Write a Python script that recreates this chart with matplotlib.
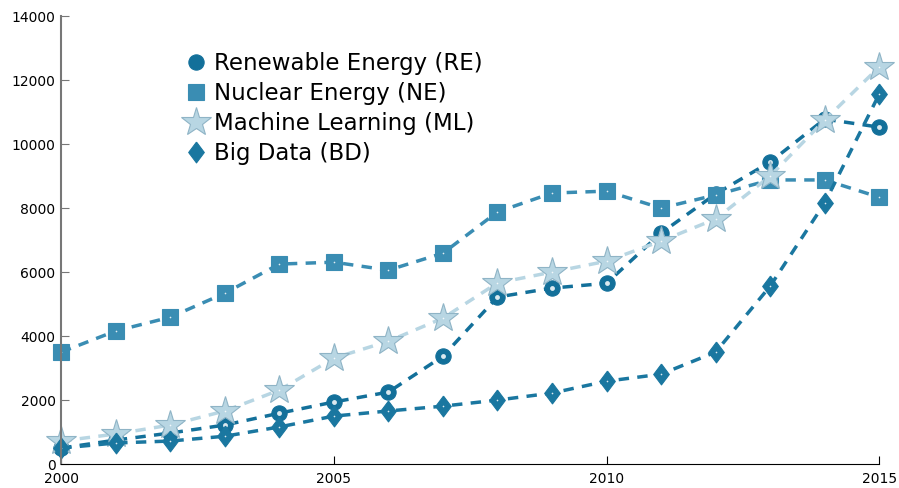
import numpy as np
import matplotlib
matplotlib.use("Agg")
import matplotlib.pyplot as plt

years = np.arange(2000, 2016)

renewable = [500, 750, 970, 1220, 1590, 1940, 2250, 3370, 5220, 5500, 5650,
             7220, 8440, 9440, 10780, 10530]
nuclear = [3500, 4160, 4590, 5340, 6250, 6310, 6060, 6590, 7880, 8470, 8530,
           8000, 8410, 8880, 8880, 8340]
machine = [720, 940, 1220, 1660, 2310, 3310, 3840, 4560, 5660, 6000, 6340,
           6970, 7660, 9000, 10750, 12410]
bigdata = [500, 660, 720, 870, 1160, 1500, 1660, 1810, 2000, 2220, 2590,
           2810, 3500, 5560, 8160, 11560]

labels = ["Renewable Energy (RE)", "Nuclear Energy (NE)",
          "Machine Learning (ML)", "Big Data (BD)"]
colors = ["#13709a", "#3a8db3", "#b8d6e3", "#1a77a0"]
# wide diamond shape for the Big Data series
diamond = [(0, 1), (0.75, 0), (0, -1), (-0.75, 0), (0, 1)]
markers = ["o", "s", "*", diamond]
sizes = [11, 11, 22, 15]

fig = plt.figure(figsize=(8.99, 4.88), dpi=100)
ax = fig.add_axes([0.068, 0.049, 0.91, 0.918])

series = [renewable, nuclear, machine, bigdata]
for i, (vals, lab, c, m, s) in enumerate(zip(series, labels, colors, markers, sizes)):
    ax.plot(years, vals, linestyle="--", dashes=(3, 2.4), linewidth=2.5,
            color=c, marker=m, markersize=s, markerfacecolor=c,
            markeredgecolor="#8fb4c6" if i == 2 else c,
            markeredgewidth=0.8, label=lab, clip_on=False)
    ax.plot(years, vals, linestyle="none", marker="o",
            markersize=3.5 if i == 0 else 1.2,
            markerfacecolor="white", markeredgewidth=0, alpha=0.85, clip_on=False)

ax.set_xlim(2000, 2015)
ax.set_ylim(0, 14000)
ax.set_xticks([2000, 2005, 2010, 2015])
ax.set_yticks(np.arange(0, 14001, 2000))
ax.tick_params(direction="in", length=6, labelsize=10)
ax.tick_params(axis="x", pad=6)
ax.tick_params(axis="y", colors="#777777", labelcolor="black", pad=4)
for side in ["top", "right"]:
    ax.spines[side].set_visible(False)
ax.spines["left"].set_color("#777777")
ax.spines["left"].set_linewidth(1.5)
ax.spines["bottom"].set_color("black")

ax.legend(loc="upper left", bbox_to_anchor=(0.142, 0.945), frameon=False,
          fontsize=16.5, handlelength=0.6, handletextpad=0.5,
          labelspacing=0.3, borderpad=0, numpoints=1)

fig.savefig("out.png", dpi=100)
